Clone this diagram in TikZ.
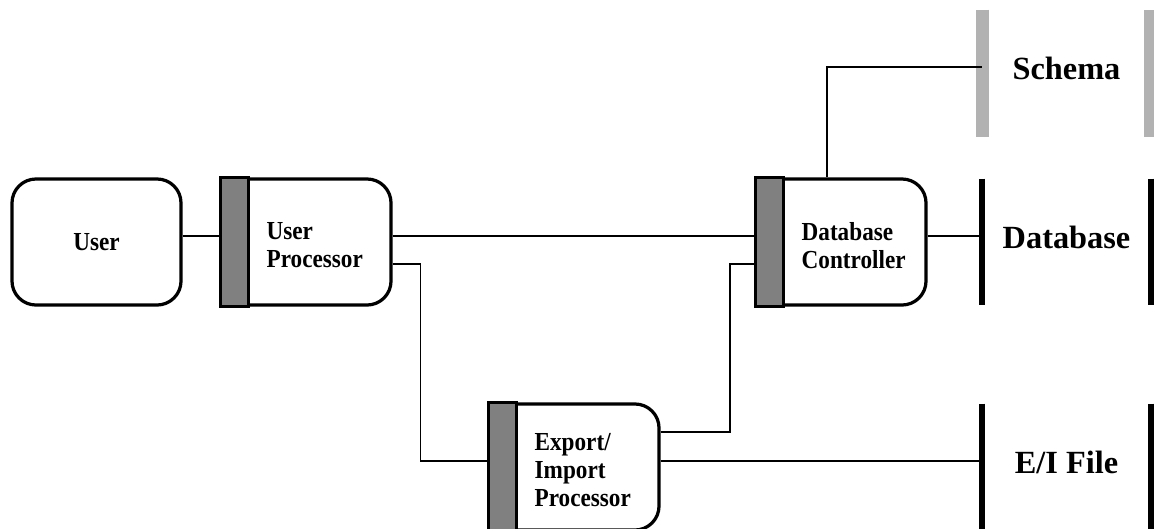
\documentclass[tikz,border=0pt]{standalone}
\usepackage{fontspec}
\setmainfont{Liberation Serif}
\usetikzlibrary{positioning,calc}

\definecolor{barfill}{gray}{0.5}
\definecolor{schemabar}{gray}{0.7}

% box labels are a little taller than wide
\newcommand{\tallword}[1]{\scalebox{1}[1.12]{#1}}

\tikzset{
  box/.style={draw,line width=2.3pt,rounded corners=0.6cm,minimum width=4.225cm,minimum height=3.15cm,inner sep=0pt,font=\fontsize{16.5}{19.9}\selectfont\bfseries},
  bar/.style={draw,line width=2.3pt,fill=barfill},
  boxtext/.style={font=\fontsize{16.5}{19.9}\selectfont\bfseries,align=left,inner sep=0pt},
  store/.style={minimum width=4.2cm,minimum height=3.15cm,inner sep=0pt,text depth=0.25cm,font=\fontsize{23}{27}\selectfont\bfseries},
  storebar/.style={line width=0.14cm},
  schemaline/.style={line width=0.325cm,draw=schemabar},
  link/.style={line width=1.2pt},
}

\begin{document}
\begin{tikzpicture}[x=0.025cm,y=-0.025cm]
      \useasboundingbox (0,0) rectangle (1154,528);
      \clip (0,0) rectangle (1154,528);

      \node[box] (user) at (96.5,242) {\tallword{User}};

      \node[box] (up) at (306.5,242) {};
      \draw[bar] (up.south west) rectangle ([xshift=0.7cm]up.north west);
      \node[boxtext,anchor=west] (uptext) at ([xshift=1.15cm,yshift=-0.08cm]up.west) {\tallword{User}\\\tallword{Processor}};

      \node[box] (dbc) at (841.5,242) {};
      \draw[bar] (dbc.south west) rectangle ([xshift=0.7cm]dbc.north west);
      \node[boxtext,anchor=west] (dbctext) at ([xshift=1.15cm,yshift=-0.08cm]dbc.west) {\tallword{Database}\\\tallword{Controller}};

      \node[box] (eip) at (574.5,467) {};
      \draw[bar] (eip.south west) rectangle ([xshift=0.7cm]eip.north west);
      \node[boxtext,anchor=west] (eiptext) at ([xshift=1.15cm,yshift=-0.08cm]eip.west) {\tallword{Export/}\\\tallword{Import}\\\tallword{Processor}};

      \node[store,minimum height=3.175cm] (schema) at (1066.5,73.5) {Schema};
      \draw[schemaline] (schema.north west) -- (schema.south west);
      \draw[schemaline] (schema.north east) -- (schema.south east);

      \node[store] (db) at (1066.5,242) {Database};
      \draw[storebar] (db.north west) -- (db.south west);
      \draw[storebar] (db.north east) -- (db.south east);

      \node[store] (eif) at (1066.5,467) {E/I File};
      \draw[storebar] (eif.north west) -- (eif.south west);
      \draw[storebar] (eif.north east) -- (eif.south east);

      \draw[link] ([yshift=0.15cm]user.east) -- ([yshift=0.15cm]up.west);
      \draw[link] ([yshift=0.15cm]up.east) -- ([yshift=0.15cm]dbc.west);
      \draw[link] ([yshift=-0.55cm]up.east) -- ++(0.7cm,0) |- ([yshift=0.15cm]eip.west);
      \draw[link] ([yshift=0.875cm]eip.east) -- ++(1.725cm,0) |- ([yshift=-0.55cm]dbc.west);
      \draw[link] ([yshift=0.15cm]eip.east) -- ([yshift=0.15cm]eif.west);
      \draw[link] ([yshift=0.15cm]dbc.east) -- ([yshift=0.15cm]db.west);
      \draw[link] ([xshift=-0.3625cm]dbc.north) |- ([yshift=0.16cm]schema.west);

    \end{tikzpicture}
\end{document}
